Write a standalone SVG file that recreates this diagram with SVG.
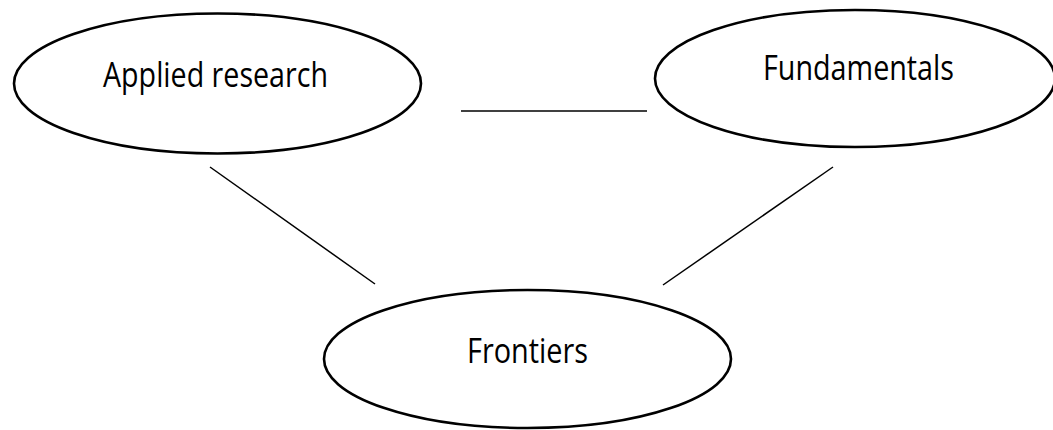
<svg xmlns="http://www.w3.org/2000/svg" width="1053" height="430" viewBox="0 0 1053 430">
<style>
.node ellipse{fill:#ffffff;stroke:#000000;stroke-width:2.6}
.node text{font-family:"Open Sans","Liberation Sans",sans-serif;font-size:34px;fill:#000000;text-anchor:middle}
.edges line{stroke:#000000;stroke-width:1.5}
</style>
<rect width="1053" height="430" fill="#ffffff"/>
<g class="edges" id="connectors">
<line x1="461" y1="111" x2="647" y2="111"/>
<line x1="210" y1="167" x2="375" y2="284"/>
<line x1="833" y1="167" x2="663" y2="285"/>
</g>
<g class="node" id="applied-research">
<ellipse cx="217.5" cy="83.5" rx="203.5" ry="70"/>
<text x="215.5" y="87" textLength="225" lengthAdjust="spacingAndGlyphs">Applied research</text>
</g>
<g class="node" id="fundamentals">
<ellipse cx="855" cy="78.5" rx="200" ry="68.5"/>
<text x="858.5" y="80" textLength="191" lengthAdjust="spacingAndGlyphs" style="font-size:35px">Fundamentals</text>
</g>
<g class="node" id="frontiers">
<ellipse cx="527.5" cy="359" rx="203.5" ry="69"/>
<text x="527.5" y="363" textLength="121" lengthAdjust="spacingAndGlyphs">Frontiers</text>
</g>
</svg>
